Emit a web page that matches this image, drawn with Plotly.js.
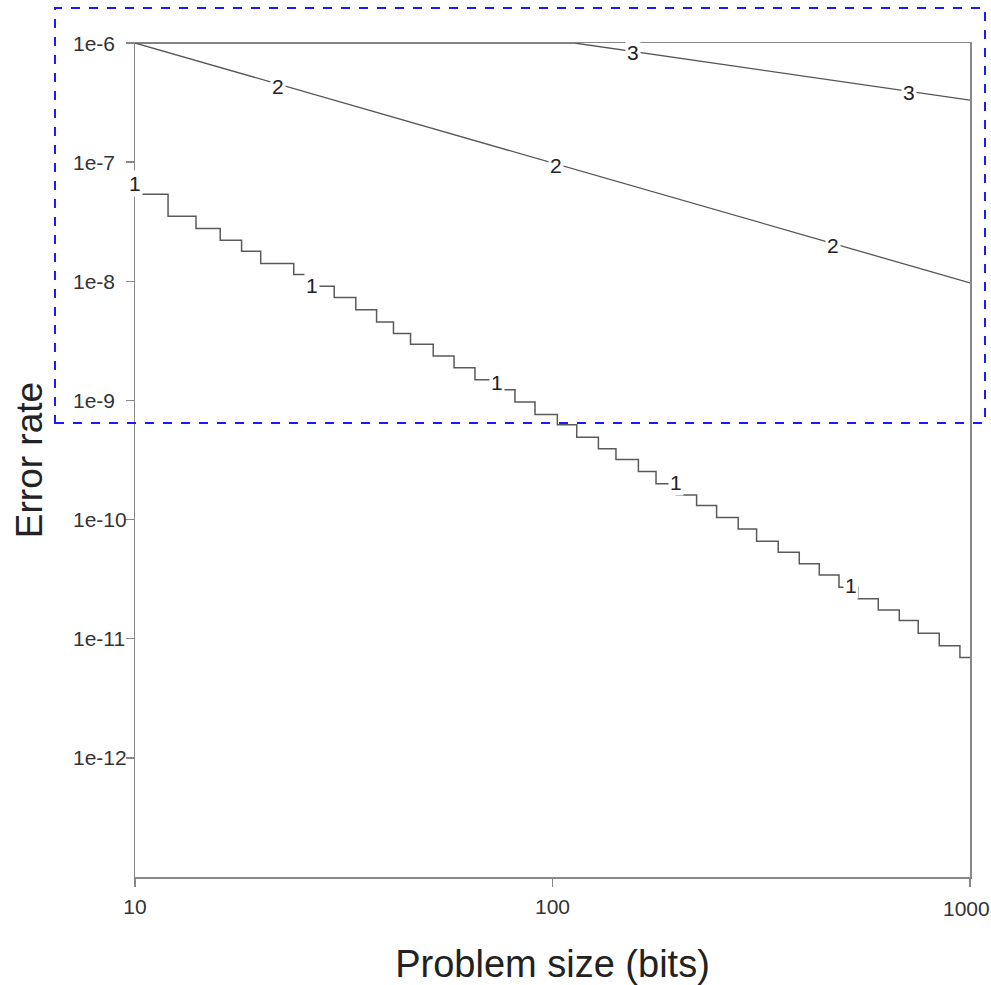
<!DOCTYPE html>
<html><head><meta charset="utf-8">
<script src="https://cdn.plot.ly/plotly-3.0.1.min.js"></script>
<style>html,body{margin:0;padding:0;background:#fff}#chart{width:991px;height:985px}</style>
</head><body><div id="chart"></div>
<script>
// Curve 1: staircase — x positions where the level drops, and the level on each step
const curve1BreakX = [12, 14, 16, 18, 20, 24, 26.7, 30, 33.8, 37.9, 41.6, 45.7, 51.8, 58.1, 65.2, 72.8, 81.3, 90.8,
  102.7, 114.3, 128.8, 141.9, 160.6, 177, 197.7, 221.4, 247.2, 278.5, 308.2,
  347.3, 390, 435.5, 485.5, 539.5, 603, 677, 751.6, 844, 946];
const curve1Levels = [5.38e-8, 3.52e-8, 2.77e-8, 2.21e-8, 1.79e-8, 1.41e-8, 1.14e-8, 9.08e-9, 7.3e-9,
  5.78e-9, 4.55e-9, 3.64e-9, 2.96e-9, 2.36e-9, 1.88e-9, 1.49e-9, 1.23e-9, 9.68e-10, 7.62e-10,
  6.25e-10, 4.92e-10, 3.93e-10, 3.19e-10, 2.53e-10, 2.0e-10, 1.61e-10, 1.31e-10, 1.04e-10, 8.35e-11,
  6.58e-11, 5.31e-11, 4.25e-11, 3.43e-11, 2.70e-11, 2.16e-11, 1.74e-11, 1.42e-11, 1.11e-11, 8.73e-12, 6.97e-12];
const xStart = 10, xEnd = 1000;

// Curve 2
const curve2X = [10, 1000];
const curve2Y = [1e-6, 9.7e-9];

// Curve 3
const curve3X = [10, 113, 1000];
const curve3Y = [1e-6, 1e-6, 3.32e-7];

// Inline curve labels
const labelText = ['1', '1', '1', '1', '1', '2', '2', '2', '3', '3'];
const labelX = [10, 26.5, 73.6, 197.6, 518.8, 22, 102, 470, 156, 714];
const labelY = [6.67e-8, 9.24e-9, 1.42e-9, 2.05e-10, 2.79e-11, 4.35e-7, 9.4e-8, 2.0e-8, 8.4e-7, 3.87e-7];

// Axis ticks
const xTickVals = [10, 100, 1000];
const xTickText = ['10', '100', '1000'];
const yTickVals = [1e-6, 1e-7, 1e-8, 1e-9, 1e-10, 1e-11, 1e-12];
const yTickText = ['1e-6', '1e-7', '1e-8', '1e-9', '1e-10', '1e-11', '1e-12'];

const xTitle = 'Problem size (bits)';
const yTitle = 'Error rate';

const FONT = 'Liberation Sans, Arial, sans-serif';
const c1x = [xStart].concat(curve1BreakX, [xEnd]);
const c1y = curve1Levels.concat([curve1Levels[curve1Levels.length - 1]]);

const lineColor = '#555555';
const traces = [
  {x: c1x, y: c1y, type: 'scatter', mode: 'lines', line: {shape: 'hv', color: '#5a5a5a', width: 1.5}, hoverinfo: 'skip'},
  {x: curve2X, y: curve2Y, type: 'scatter', mode: 'lines', line: {color: lineColor, width: 1.3}, hoverinfo: 'skip'},
  {x: curve3X, y: curve3Y, type: 'scatter', mode: 'lines', line: {color: lineColor, width: 1.3}, hoverinfo: 'skip'}
];

const annotations = labelText.map((t, i) => ({
  x: Math.log10(labelX[i]), y: Math.log10(labelY[i]), xref: 'x', yref: 'y',
  text: t, showarrow: false, xanchor: 'center', yanchor: 'middle',
  bgcolor: '#ffffff', borderpad: 1,
  font: {family: FONT, size: 21, color: '#222222'}
}));

// y tick labels: left-aligned column, as in the reference
const plotLeft = 135, plotW = 835, plotBottom = 877, plotH = 834;
yTickVals.forEach((v, i) => {
  annotations.push({
    x: (72 - plotLeft) / plotW, xref: 'paper', xanchor: 'left',
    y: Math.log10(v), yref: 'y', yanchor: 'middle',
    text: yTickText[i], showarrow: false, borderpad: 0,
    font: {family: FONT, size: 21, color: '#333333'}
  });
});
// last x tick label sits at the right edge; drawn slightly inward so it is not cut off
annotations.push({
  x: Math.log10(xTickVals[2]), xref: 'x', xshift: -4, xanchor: 'center',
  y: (plotBottom - 908) / plotH, yref: 'paper', yanchor: 'middle',
  text: xTickText[2], showarrow: false, borderpad: 0,
  font: {family: FONT, size: 21, color: '#333333'}
});

const axisCommon = {
  type: 'log', showgrid: false, zeroline: false,
  showline: true, mirror: true, linecolor: '#888888', linewidth: 1.5,
  ticks: 'outside', ticklen: 8, tickwidth: 1.5, tickcolor: '#888888',
  tickfont: {family: FONT, size: 21, color: '#333333'}
};

const layout = {
  width: 991, height: 985,
  margin: {l: 135, r: 21, t: 43, b: 108, pad: 0},
  paper_bgcolor: '#ffffff', plot_bgcolor: '#ffffff',
  showlegend: false,
  xaxis: Object.assign({}, axisCommon, {
    range: [1, 3], tickmode: 'array', tickvals: xTickVals,
    ticktext: xTickText.map((t, i) => i === xTickText.length - 1 ? '' : t),
    ticklabelstandoff: 2,
    title: {text: xTitle, standoff: 36, font: {family: FONT, size: 38, color: '#222222'}}
  }),
  yaxis: Object.assign({}, axisCommon, {
    range: [-13, -6], tickmode: 'array', tickvals: yTickVals, ticktext: yTickText,
    showticklabels: false,
    title: {text: yTitle, standoff: 71, font: {family: FONT, size: 37, color: '#222222'}}
  }),
  annotations: annotations,
  shapes: [{
    type: 'rect', xref: 'paper', yref: 'paper',
    x0: (55 - plotLeft) / plotW, x1: (985 - plotLeft) / plotW,
    y0: (plotBottom - 423) / plotH, y1: (plotBottom - 8) / plotH,
    line: {color: '#1a1aff', width: 2, dash: 'dash'}, fillcolor: 'rgba(0,0,0,0)', layer: 'above'
  }]
};

Plotly.newPlot('chart', traces, layout, {staticPlot: true, displayModeBar: false});
</script>
</body></html>
